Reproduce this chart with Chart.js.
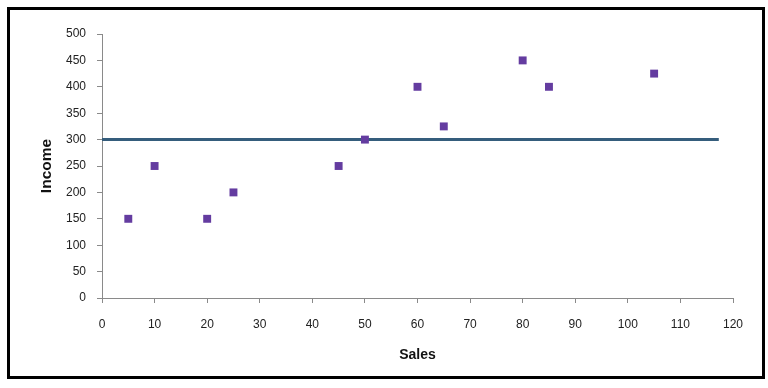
<!DOCTYPE html>
<html>
<head>
<meta charset="utf-8">
<script src="https://cdn.jsdelivr.net/npm/chart.js@4"></script>
<style>
  html, body { margin: 0; padding: 0; background: #fff; }
  #wrap { width: 768px; height: 388px; }
</style>
</head>
<body>
<div id="wrap"><canvas id="chart" width="768" height="388"></canvas></div>
<script>
const sales = [5, 10, 20, 25, 45, 50, 60, 65, 80, 85, 105];
const income = [150, 250, 150, 200, 250, 300, 400, 325, 450, 400, 425];
const lineX = [0, 117.3];
const lineY = [300, 300];

const points = sales.map((s, i) => ({ x: s, y: income[i] }));
const linePoints = lineX.map((x, i) => ({ x: x, y: lineY[i] }));

// black frame around the whole picture
const framePlugin = {
  id: 'frame',
  afterDraw(chart) {
    const ctx = chart.ctx;
    ctx.save();
    ctx.strokeStyle = '#000';
    ctx.lineWidth = 3;
    ctx.strokeRect(8.5, 8.5, 755, 369);
    ctx.restore();
  }
};

const font = { family: "'Liberation Sans', Arial, sans-serif", size: 12 };

new Chart(document.getElementById('chart'), {
  data: {
    datasets: [
      {
        type: 'line',
        data: linePoints,
        borderColor: '#355d7c',
        borderWidth: 3,
        pointRadius: 0,
        fill: false,
        order: 2
      },
      {
        type: 'scatter',
        data: points,
        pointStyle: 'rect',
        pointRadius: 5.6,
        backgroundColor: '#643ca0',
        borderWidth: 0,
        order: 1
      }
    ]
  },
  options: {
    responsive: false,
    animation: false,
    layout: { padding: { top: 34, right: 35, left: 0, bottom: 0 } },
    plugins: {
      legend: { display: false },
      tooltip: { enabled: false }
    },
    scales: {
      x: {
        type: 'linear',
        min: 0,
        max: 120,
        afterFit(scale) { scale.height = 90; },
        ticks: { stepSize: 10, color: '#222', font: font, padding: 14, maxRotation: 0 },
        grid: { drawOnChartArea: false, drawTicks: true, tickLength: 5, color: '#8a8a8a' },
        border: { color: '#8a8a8a', width: 1 },
        title: {
          display: true,
          text: 'Sales',
          color: '#111',
          font: { family: font.family, size: 14, weight: 'bold' },
          padding: { bottom: 24 }
        }
      },
      y: {
        type: 'linear',
        min: 0,
        max: 500,
        afterFit(scale) { scale.width = 102; },
        ticks: { stepSize: 50, color: '#222', font: font, padding: 11 },
        grid: { drawOnChartArea: false, drawTicks: true, tickLength: 5, color: '#8a8a8a' },
        border: { color: '#8a8a8a', width: 1 },
        title: {
          display: true,
          text: 'Income',
          color: '#111',
          font: { family: font.family, size: 15.5, weight: 'bold' },
          padding: { top: 37 }
        }
      }
    }
  },
  plugins: [framePlugin]
});
</script>
</body>
</html>
